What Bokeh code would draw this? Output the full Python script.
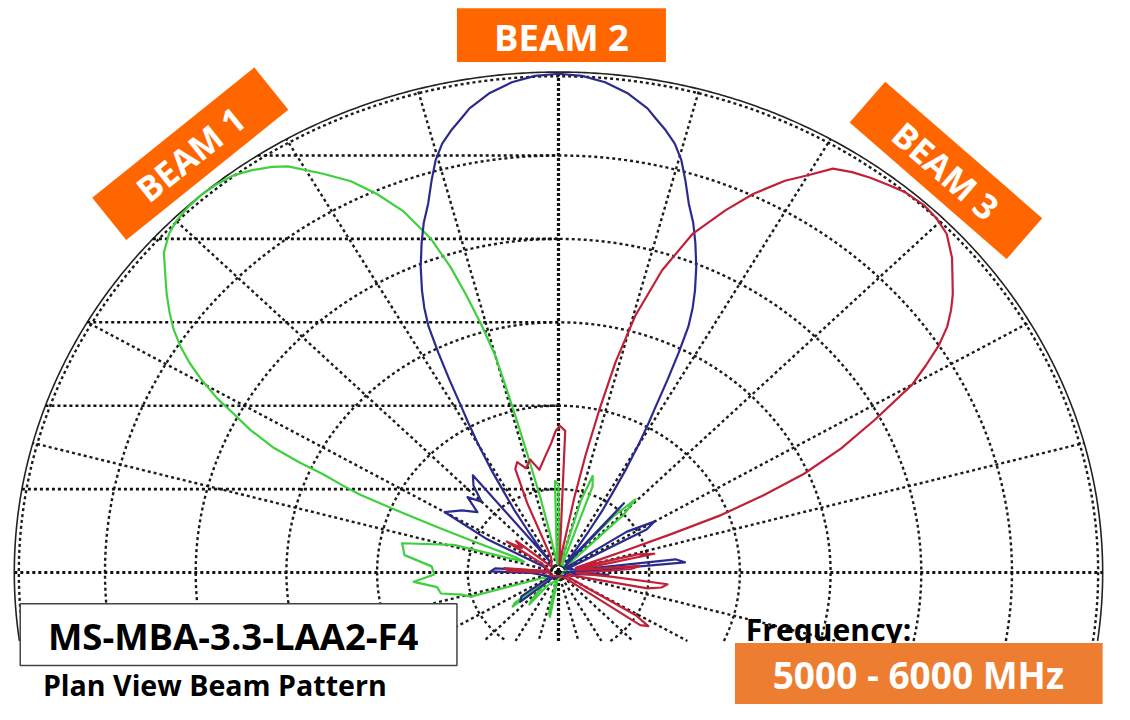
import numpy as np
from bokeh.plotting import figure
from bokeh.models import Range1d
from bokeh.core.properties import value
from bokeh.embed import file_html
from bokeh.resources import INLINE

# ---------------- data (angles in degrees, radius in ring units 0..6) ----------------
beam1_theta = [0, 20, 40, 44, 46, 48, 52, 66, 70, 72, 74, 78, 87, 90, 92, 94, 97, 100, 101.5, 102.5,
               103.5, 104, 104.5, 105, 106, 107, 108, 109.4, 111.5, 113.8, 116, 118.5, 121.5, 123,
               125, 127, 129, 131, 133, 135, 136.6, 138.6, 140.6, 142.3, 144, 145.5, 146.9, 148.3,
               149.6, 151, 152, 153.3, 154.5, 155.2, 155.6, 156.3, 156.9, 157.3, 157.8, 158.2, 159,
               161, 164, 168.5, 173, 177, 181, 184, 187.5, 191, 194, 196.6, 200, 212, 217, 219, 221,
               228, 230, 232, 255, 258, 260, 262, 300, 360]
beam1_r = [0.05, 0.1, 0.1, 1.0, 1.22, 0.9, 0.1, 0.1, 1.1, 1.22, 0.9, 0.1, 0.1, 1.05, 1.1, 0.3, 0.1,
           0.2, 0.5, 0.9, 1.4, 1.76, 2.2, 2.69, 3.1, 3.48, 3.85, 4.25, 4.65, 4.96, 5.22, 5.44, 5.71,
           5.8, 5.89, 5.96, 5.99, 6.0, 5.99, 5.96, 5.91, 5.8, 5.61, 5.46, 5.3, 5.15, 4.98, 4.78, 4.56,
           4.3, 4.06, 3.8, 3.49, 3.15, 2.85, 2.6, 2.39, 1.96, 1.52, 1.09, 0.5, 0.4, 1.2, 1.76, 1.71,
           1.4, 1.37, 1.6, 1.35, 1.32, 1.1, 1.01, 0.2, 0.1, 0.6, 0.65, 0.2, 0.45, 0.5, 0.2, 0.1, 0.5,
           0.54, 0.1, 0.05, 0.05]

beam2_theta = [0, 3, 5, 7, 9, 24, 28, 30, 33, 36, 46, 49, 51, 54, 55, 56, 57, 58.2, 59, 60, 61, 61.6,
               62.5, 63.3, 64.1, 65, 66, 67.5, 69.1, 70.5, 72, 73.4, 74.7, 76, 77.4, 79, 80, 82.5, 85,
               87.5, 90, 92.5, 95, 97.5, 100, 101, 102.6, 104, 105.3, 106.6, 108, 109.5, 110.9, 112.5,
               114, 115, 115.9, 116.7, 117.5, 118.4, 119, 120, 121, 121.8, 123, 124, 125, 126, 127,
               129, 132, 135, 138, 141, 145, 150, 153, 156, 170, 176, 179, 181, 210, 215, 220, 224,
               300, 354, 357, 359, 360]
beam2_r = [0.05, 0.3, 1.4, 1.3, 0.2, 0.1, 1.1, 1.22, 0.9, 0.1, 0.1, 1.1, 0.2, 0.15, 0.35, 0.6, 0.9,
           1.18, 1.45, 1.75, 2.05, 2.23, 2.6, 2.95, 3.28, 3.5, 3.7, 3.97, 4.23, 4.45, 4.65, 4.9, 5.13,
           5.3, 5.43, 5.56, 5.65, 5.8, 5.9, 5.96, 5.98, 5.96, 5.9, 5.8, 5.65, 5.56, 5.43, 5.3, 5.13,
           4.9, 4.65, 4.45, 4.23, 3.97, 3.7, 3.5, 3.28, 2.95, 2.6, 2.23, 2.05, 1.75, 1.45, 1.18, 0.9,
           0.6, 0.35, 0.15, 0.3, 1.5, 1.4, 1.2, 1.35, 1.15, 1.3, 1.45, 0.9, 0.2, 0.1, 0.7, 0.75, 0.3,
           0.1, 0.5, 0.55, 0.1, 0.05, 0.2, 0.55, 0.2, 0.05]

beam3_theta = [0, 3, 5, 8, 10, 12, 14, 16, 18, 18.5, 19.6, 20.3, 21, 22.3, 23.6, 25.5, 27.7, 30, 31.5,
               33, 34.5, 36, 37.5, 39, 41, 43.5, 45.5, 47.5, 50, 52, 54, 56, 58, 60, 62, 64.7, 67, 70,
               72.5, 74.6, 76, 77, 78, 79, 80.5, 84, 86, 87.5, 89.5, 91, 93, 96, 99.7, 103, 106, 109,
               111, 112.5, 114, 138, 141, 144, 147, 150, 172, 175, 178, 181, 200, 240, 300, 318, 325,
               327, 329, 333, 345, 349, 351, 353.3, 355, 358, 360]
beam3_r = [0.3, 0.8, 0.9, 0.2, 0.3, 1.08, 0.9, 0.2, 0.3, 0.4, 0.77, 1.3, 1.92, 2.45, 2.95, 3.45, 3.94,
           4.5, 4.75, 5.0, 5.2, 5.35, 5.48, 5.59, 5.75, 5.9, 5.95, 5.97, 5.95, 5.9, 5.85, 5.79, 5.71,
           5.5, 5.32, 5.02, 4.72, 4.32, 3.8, 3.2, 2.6, 2.0, 1.45, 0.92, 0.3, 0.1, 0.2, 1.7, 1.76, 1.7,
           1.55, 1.4, 1.25, 1.39, 1.3, 1.4, 1.33, 0.9, 0.2, 0.1, 0.6, 0.5, 0.68, 0.2, 0.1, 0.6, 0.55,
           0.1, 0.1, 0.05, 0.05, 0.1, 1.1, 1.18, 1.0, 0.1, 0.1, 1.0, 1.15, 1.21, 0.6, 0.2, 0.3]

beam_labels = ["BEAM 1", "BEAM 2", "BEAM 3"]
beam_colors = ["#3fcf3f", "#2a2b8c", "#c22038"]

ring_radii = [1, 2, 3, 4, 5, 6]
spoke_angles = list(range(0, 360, 15))
level_lines = [1, 2, 3, 4, 5]

model_label = "MS-MBA-3.3-LAA2-F4"
subtitle = "Plan View Beam Pattern"
freq_title = "Frequency:"
freq_range = "5000 - 6000 MHz"

# ---------------- layout helpers (reference pixel -> data) ----------------
CX, CY, SX, SY = 566.0, 585.0, 92.0, 85.3
W, H = 1114, 704
K = W / 1130.0


def dx(px):
    return (px - CX) / SX


def dy(py):
    return (CY - py) / SY


p = figure(width=W, height=H, x_range=Range1d(dx(0), dx(1130)), y_range=Range1d(dy(720), dy(0)),
           toolbar_location=None, output_backend="svg", min_border=0,
           x_axis_location=None, y_axis_location=None, outline_line_color=None)
p.xgrid.visible = False
p.ygrid.visible = False
p.background_fill_color = "white"
p.border_fill_color = "white"

ymin = dy(655)
R = ring_radii[-1]
GRID = "#1c1c1c"
GW = 2.4

# rings
rx, ry = [], []
for r in ring_radii[:-1] + [R - 0.05]:
    a0 = -np.arcsin(min(1.0, -ymin / r))
    t = np.linspace(a0, np.pi - a0, 500)
    rx.append(r * np.cos(t))
    ry.append(r * np.sin(t))
p.multi_line(rx, ry, line_color=GRID, line_width=GW, line_dash="3 3")

# outer solid ring
a0 = -np.arcsin(min(1.0, -ymin / R))
t = np.linspace(a0, np.pi - a0, 600)
p.line(R * np.cos(t), R * np.sin(t), line_color="#222222", line_width=1.6)

# spokes
sx, sy = [], []
for a in spoke_angles:
    if a in (0, 90, 180, 270):
        continue
    ar = np.radians(a)
    s = np.sin(ar)
    rmax = R if s >= 0 else min(R, ymin / s)
    sx.append([0, rmax * np.cos(ar)])
    sy.append([0, rmax * np.sin(ar)])
p.multi_line(sx, sy, line_color=GRID, line_width=GW, line_dash="3 3")

# level lines on the left half
lx, ly = [], []
for k in level_lines:
    lx.append([-np.sqrt(R ** 2 - k ** 2), 0])
    ly.append([k, k])
p.multi_line(lx, ly, line_color="#111111", line_width=2.6, line_dash="3 3")

# main axes
p.line([-R, R], [0, 0], line_color="#111111", line_width=2.8, line_dash="3 3")
p.line([0, 0], [ymin, R], line_color="#111111", line_width=3.2, line_dash="3 2")

# beam patterns
for th, rr, col in [(beam1_theta, beam1_r, beam_colors[0]),
                    (beam2_theta, beam2_r, beam_colors[1]),
                    (beam3_theta, beam3_r, beam_colors[2])]:
    th = np.radians(np.array(th, dtype=float))
    rr = np.array(rr, dtype=float)
    p.line(rr * np.cos(th), rr * np.sin(th), line_color=col, line_width=2.2, line_join="round")

# ---------------- annotations ----------------
ORANGE = "#ff6600"
FONT = value("Open Sans")

# BEAM 2 box
p.quad(left=[dx(463)], right=[dx(675)], top=[dy(8)], bottom=[dy(63)], fill_color=ORANGE, line_color=None)
p.text(x=[dx(569)], y=[dy(37)], text=[beam_labels[1]], text_font=FONT, text_font_style="bold",
       text_font_size=f"{37 * K:.1f}px", text_color="white", text_align="center", text_baseline="middle")

# BEAM 1 / BEAM 3 rotated boxes
for lab, cxp, cyp, ang in [(beam_labels[0], 192.5, 156.75, 38.8), (beam_labels[2], 959, 173.75, -41.0)]:
    p.rect(x=[dx(cxp)], y=[dy(cyp)], width=[211 * K], height=[55 * K], width_units="screen",
           height_units="screen", angle=np.radians(ang), fill_color=ORANGE, line_color=None)
    p.text(x=[dx(cxp)], y=[dy(cyp)], text=[lab], text_font=FONT, text_font_style="bold",
           text_font_size=f"{35 * K:.1f}px", text_color="white", text_align="center",
           text_baseline="middle", angle=np.radians(ang))

# model box
p.quad(left=[dx(20)], right=[dx(463)], top=[dy(617)], bottom=[dy(680)], fill_color="white",
       line_color="#444444", line_width=1.5)
p.text(x=[dx(236)], y=[dy(650)], text=[model_label], text_font=FONT, text_font_style="bold",
       text_font_size=f"{37 * K:.1f}px", text_color="black", text_align="center", text_baseline="middle")

p.text(x=[dx(43)], y=[dy(700)], text=[subtitle], text_font=FONT, text_font_style="bold",
       text_font_size=f"{29 * K:.1f}px", text_color="black", text_align="left", text_baseline="alphabetic")

p.text(x=[dx(756)], y=[dy(643)], text=[freq_title], text_font=FONT, text_font_style="bold",
       text_font_size=f"{30.5 * K:.1f}px", text_color="black", text_align="left", text_baseline="alphabetic")

p.quad(left=[dx(745)], right=[dx(1118)], top=[dy(657)], bottom=[dy(730)], fill_color="#ed7d31", line_color=None)
p.text(x=[dx(931)], y=[dy(689)], text=[freq_range], text_font=FONT, text_font_style="bold",
       text_font_size=f"{37.5 * K:.1f}px", text_color="white", text_align="center", text_baseline="middle")

open("out.html", "w").write(file_html(p, INLINE))
